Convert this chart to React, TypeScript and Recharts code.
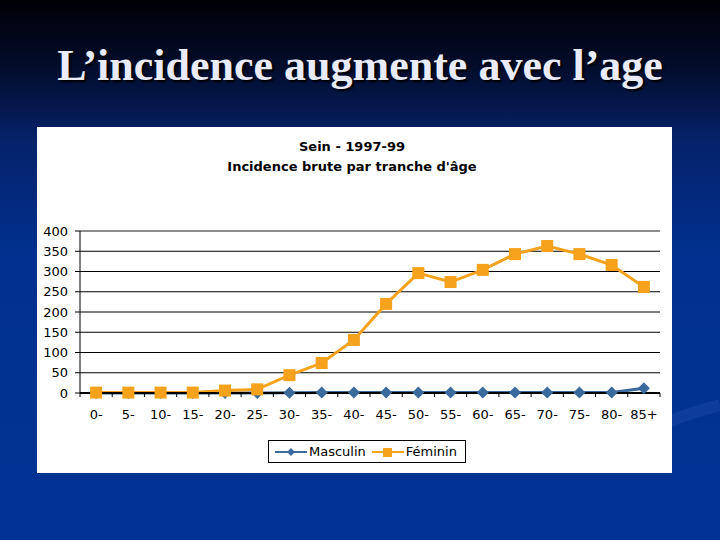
import {
  CartesianGrid,
  Legend,
  Line,
  LineChart,
  ReferenceLine,
  XAxis,
  YAxis,
} from "recharts";

const ageGroups = [
  "0-", "5-", "10-", "15-", "20-", "25-", "30-", "35-", "40-",
  "45-", "50-", "55-", "60-", "65-", "70-", "75-", "80-", "85+",
];
const masculin = [0, 0, 0, 0, 0, 0, 0.5, 1, 1, 1, 1.5, 1, 1, 1.5, 1, 1, 1.5, 12];
const feminin = [1, 1, 1, 1, 6, 9, 44, 74, 131, 220, 296, 274, 304, 343, 363, 343, 316, 262];
const yTicks = [0, 50, 100, 150, 200, 250, 300, 350, 400];
const legendOrder = ["masculin", "feminin"];

const data = ageGroups.map((age, i) => ({
  age,
  masculin: masculin[i],
  feminin: feminin[i],
}));

const BLUE = "#3b6a9c";
const ORANGE = "#f7a21c";
const FONT = "'DejaVu Sans', Verdana, sans-serif";
const HALF_BAND = 580 / ageGroups.length / 2;

const Diamond = (props: any) => {
  const { cx, cy, index } = props;
  if (cx == null || cy == null) return null;
  return (
    <polygon
      key={`d-${index}`}
      points={`${cx},${cy - 6} ${cx + 6},${cy} ${cx},${cy + 6} ${cx - 6},${cy}`}
      fill={BLUE}
    />
  );
};

const Square = (props: any) => {
  const { cx, cy, index } = props;
  if (cx == null || cy == null) return null;
  return <rect key={`s-${index}`} x={cx - 6} y={cy - 6} width={12} height={12} fill={ORANGE} />;
};

const AgeTick = (props: any) => {
  const { x, y, payload, index } = props;
  return (
    <g>
      <line x1={x - HALF_BAND} x2={x - HALF_BAND} y1={y} y2={y + 4} stroke="#000" />
      {index === ageGroups.length - 1 && (
        <line x1={x + HALF_BAND} x2={x + HALF_BAND} y1={y} y2={y + 4} stroke="#000" />
      )}
      <text x={x} y={y + 26} textAnchor="middle" fontSize={13} fontFamily={FONT} fill="#000">
        {payload.value}
      </text>
    </g>
  );
};

const LegendBox = (props: any) => {
  const items = [...(props.payload || [])].sort(
    (a: any, b: any) => legendOrder.indexOf(a.dataKey) - legendOrder.indexOf(b.dataKey)
  );
  return (
    <div
      style={{
        display: "flex",
        alignItems: "center",
        border: "1px solid #000",
        background: "#fff",
        padding: "3px 4px",
        fontFamily: FONT,
        fontSize: 13,
        color: "#000",
        whiteSpace: "nowrap",
      }}
    >
      {items.map((item: any) => (
        <span key={item.value} style={{ display: "flex", alignItems: "center", marginRight: 4 }}>
          <svg width={36} height={14}>
            <line x1={2} x2={34} y1={7} y2={7} stroke={item.color} strokeWidth={2} />
            {item.dataKey === "masculin" ? (
              <polygon points="18,3 22,7 18,11 14,7" fill={item.color} />
            ) : (
              <rect x={13} y={3} width={9} height={9} fill={item.color} />
            )}
          </svg>
          <span>{item.value}</span>
        </span>
      ))}
    </div>
  );
};

export default function App() {
  return (
    <div
      style={{
        position: "fixed",
        left: 0,
        top: 0,
        width: 720,
        height: 540,
        overflow: "hidden",
        background:
          "linear-gradient(to bottom, #000005 0%, #020c2a 12%, #06226a 26%, #003191 48%, #003393 100%)",
      }}
    >
      <svg width={720} height={540} style={{ position: "absolute", left: 0, top: 0 }}>
        <path d="M600,455 Q660,420 720,405" stroke="#1a4aa8" strokeWidth={12} fill="none" opacity={0.45} />
      </svg>
      <div
        style={{
          position: "absolute",
          left: 0,
          top: 40,
          width: 720,
          textAlign: "center",
          fontFamily: "'Liberation Serif', 'Times New Roman', serif",
          fontWeight: "bold",
          fontSize: 44,
          color: "#e9ecf8",
          textShadow: "2px 2px 2px #000",
        }}
      >
        L’incidence augmente avec l’age
      </div>
      <div
        style={{
          position: "absolute",
          left: 37,
          top: 127,
          width: 635,
          height: 346,
          background: "#fff",
        }}
      >
        <div
          style={{
            position: "absolute",
            left: 0,
            top: 10,
            width: 630,
            textAlign: "center",
            fontFamily: FONT,
            fontWeight: "bold",
            fontSize: 13,
            lineHeight: "20px",
            color: "#000",
          }}
        >
          <div>Sein - 1997-99</div>
          <div>Incidence brute par tranche d'âge</div>
        </div>
        <LineChart
          width={635}
          height={346}
          data={data}
          margin={{ top: 104, right: 12, bottom: 50, left: 0 }}
        >
          <CartesianGrid stroke="#000" vertical={false} />
          <XAxis
            dataKey="age"
            height={30}
            interval={0}
            padding={{ left: HALF_BAND, right: HALF_BAND }}
            tickSize={0}
            tickMargin={0}
            axisLine={{ stroke: "#000", strokeWidth: 2 }}
            tick={<AgeTick />}
          />
          <YAxis
            domain={[0, 400]}
            ticks={yTicks}
            width={43}
            interval={0}
            tickSize={5}
            tickMargin={7}
            axisLine={{ stroke: "#000" }}
            tickLine={{ stroke: "#000" }}
            tick={{ fill: "#000", fontSize: 13, fontFamily: FONT }}
          />
          <YAxis
            yAxisId="right"
            orientation="right"
            domain={[0, 400]}
            width={0}
            tick={false}
            tickLine={false}
            axisLine={{ stroke: "#999" }}
          />
          <ReferenceLine y={400} stroke="#999" />
          <Legend
            verticalAlign="middle"
            align="center"
            layout="horizontal"
            wrapperStyle={{ top: 313, left: 231, width: "auto" }}
            content={<LegendBox />}
          />
          <Line
            type="linear"
            dataKey="masculin"
            name="Masculin"
            stroke={BLUE}
            strokeWidth={3}
            dot={Diamond}
            activeDot={false}
            isAnimationActive={false}
          />
          <Line
            type="linear"
            dataKey="feminin"
            name="Féminin"
            stroke={ORANGE}
            strokeWidth={3}
            dot={Square}
            activeDot={false}
            isAnimationActive={false}
          />
        </LineChart>
      </div>
    </div>
  );
}
